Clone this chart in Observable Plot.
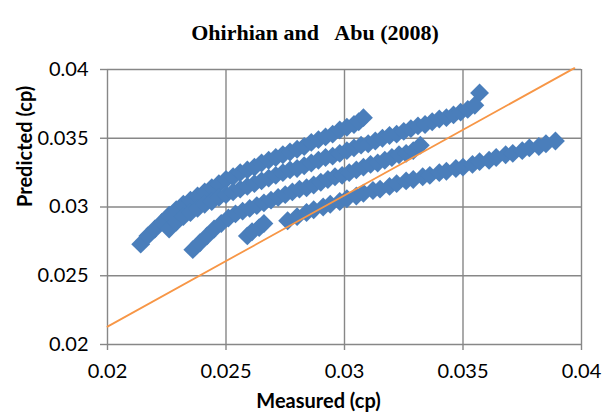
<!DOCTYPE html>
<html>
<head>
<meta charset="utf-8">
<script src="https://cdn.jsdelivr.net/npm/d3@7"></script>
<script src="https://cdn.jsdelivr.net/npm/@observablehq/plot@0.6"></script>
<style>
  html, body { margin: 0; padding: 0; background: #fff; }
</style>
</head>
<body>
<div id="chart"></div>
<script>
const titleText = "Ohirhian and\u00a0\u00a0 Abu (2008)";
const xLabel = "Measured (cp)";
const yLabel = "Predicted (cp)";
const xTicks = [0.02, 0.025, 0.03, 0.035, 0.04];
const yTicks = [0.02, 0.025, 0.03, 0.035, 0.04];

// Series A (top band)
const measuredA = [0.0214,0.0217,0.0220,0.0223,0.0226,0.0229,0.0232,0.0235,0.0238,0.0241,0.0244,0.0247,0.0250,0.0253,0.0256,0.0259,0.0262,0.0265,0.0268,0.0271,0.0274,0.0277,0.0280,0.0283,0.0286,0.0289,0.0292,0.0295,0.0298,0.0301,0.0304,0.0306,0.0308];
const predictedA = [0.0273,0.0279,0.0284,0.0289,0.0294,0.0298,0.0302,0.0305,0.0308,0.0311,0.0314,0.0317,0.0320,0.0322,0.0325,0.0327,0.0329,0.0332,0.0334,0.0336,0.0338,0.0340,0.0342,0.0344,0.0347,0.0349,0.0351,0.0353,0.0356,0.0358,0.0360,0.0362,0.0365];

// Series B (second band)
const measuredB = [0.0226,0.0229,0.0232,0.0235,0.0238,0.0241,0.0244,0.0247,0.0250,0.0253,0.0256,0.0259,0.0262,0.0265,0.0268,0.0271,0.0274,0.0277,0.0280,0.0283,0.0286,0.0289,0.0292,0.0295,0.0298,0.0301,0.0304,0.0307,0.0310,0.0313,0.0316,0.0319,0.0322,0.0325,0.0328,0.0331,0.0334,0.0337,0.0340,0.0343,0.0346,0.0349,0.0352,0.0355,0.0357];
const predictedB = [0.0284,0.0289,0.0293,0.0296,0.0299,0.0302,0.0304,0.0307,0.0309,0.0311,0.0313,0.0315,0.0317,0.0319,0.0321,0.0323,0.0325,0.0327,0.0328,0.0330,0.0332,0.0334,0.0336,0.0337,0.0339,0.0341,0.0343,0.0345,0.0346,0.0348,0.0350,0.0352,0.0353,0.0355,0.0357,0.0359,0.0360,0.0362,0.0364,0.0365,0.0367,0.0369,0.0371,0.0374,0.0383];

// Series C (third band)
const measuredC = [0.0236,0.0239,0.0242,0.0245,0.0248,0.0251,0.0254,0.0257,0.0260,0.0263,0.0266,0.0269,0.0272,0.0275,0.0278,0.0281,0.0284,0.0287,0.0290,0.0293,0.0296,0.0299,0.0302,0.0305,0.0308,0.0311,0.0314,0.0317,0.0320,0.0323,0.0326,0.0329,0.0332];
const predictedC = [0.0269,0.0274,0.0279,0.0284,0.0288,0.0292,0.0295,0.0297,0.0299,0.0301,0.0303,0.0305,0.0307,0.0309,0.0311,0.0313,0.0314,0.0316,0.0318,0.0320,0.0322,0.0323,0.0325,0.0327,0.0329,0.0331,0.0332,0.0334,0.0336,0.0338,0.0339,0.0341,0.0345];

// Series D (bottom band)
const measuredD = [0.0259,0.0261,0.0264,0.0266,0.0276,0.0280,0.0284,0.0287,0.0291,0.0294,0.0298,0.0301,0.0305,0.0308,0.0312,0.0315,0.0319,0.0322,0.0326,0.0329,0.0333,0.0336,0.0340,0.0343,0.0347,0.0350,0.0354,0.0357,0.0361,0.0364,0.0368,0.0371,0.0375,0.0378,0.0382,0.0385,0.0389];
const predictedD = [0.0279,0.0282,0.0285,0.0288,0.0290,0.0293,0.0296,0.0298,0.0300,0.0302,0.0304,0.0306,0.0308,0.0310,0.0312,0.0313,0.0315,0.0317,0.0319,0.0320,0.0322,0.0323,0.0325,0.0326,0.0328,0.0329,0.0331,0.0333,0.0334,0.0336,0.0338,0.0339,0.0341,0.0343,0.0344,0.0346,0.0348];

// Reference (orange) line end points
const lineMeasured = [0.02, 0.0397];
const linePredicted = [0.0213, 0.0401];

const toRows = (xs, ys) => xs.map((x, i) => ({x, y: ys[i]}));
const points = [
  ...toRows(measuredA, predictedA),
  ...toRows(measuredB, predictedB),
  ...toRows(measuredC, predictedC),
  ...toRows(measuredD, predictedD)
];
const lineRows = toRows(lineMeasured, linePredicted);
const fmt = d => String(+d.toFixed(3));
const grid = "#878787";

const chart = Plot.plot({
  width: 611,
  height: 417,
  marginLeft: 107,
  marginRight: 30,
  marginTop: 69,
  marginBottom: 73,
  x: {domain: [0.02, 0.04]},
  y: {domain: [0.02, 0.04]},
  style: {fontFamily: "Lato, 'Open Sans', sans-serif", fontSize: "20px", background: "#fff", color: "#000"},
  marks: [
    Plot.ruleX(xTicks, {stroke: grid, strokeWidth: 1.4}),
    Plot.ruleY(yTicks, {stroke: grid, strokeWidth: 1.4}),
    Plot.axisX({ticks: xTicks, tickFormat: fmt, tickSize: 6, tickPadding: 13, stroke: grid, strokeWidth: 1.4, fill: "#000", fontSize: 20, label: null}),
    Plot.axisY({ticks: yTicks, tickFormat: fmt, tickSize: 7, tickPadding: 12, stroke: grid, strokeWidth: 1.4, fill: "#000", fontSize: 20, label: null}),
    Plot.dot(points, {x: "x", y: "y", symbol: "diamond2", r: 8.5, fill: "#4a7ebb", stroke: "none"}),
    Plot.line(lineRows, {x: "x", y: "y", stroke: "#f79646", strokeWidth: 1.8}),
    Plot.text([titleText], {frameAnchor: "top", dx: -29.5, dy: -45.5, fontFamily: "'Liberation Serif', serif", fontWeight: "bold", fontSize: 22, fill: "#000"}),
    Plot.text([xLabel], {frameAnchor: "bottom", dx: -26, dy: 63, fontWeight: "bold", fontSize: 20, fill: "#000"}),
    Plot.text([yLabel], {frameAnchor: "left", dx: -82, rotate: -90, fontWeight: "bold", fontSize: 20, fill: "#000"})
  ]
});
document.getElementById("chart").appendChild(chart);
</script>
</body>
</html>
